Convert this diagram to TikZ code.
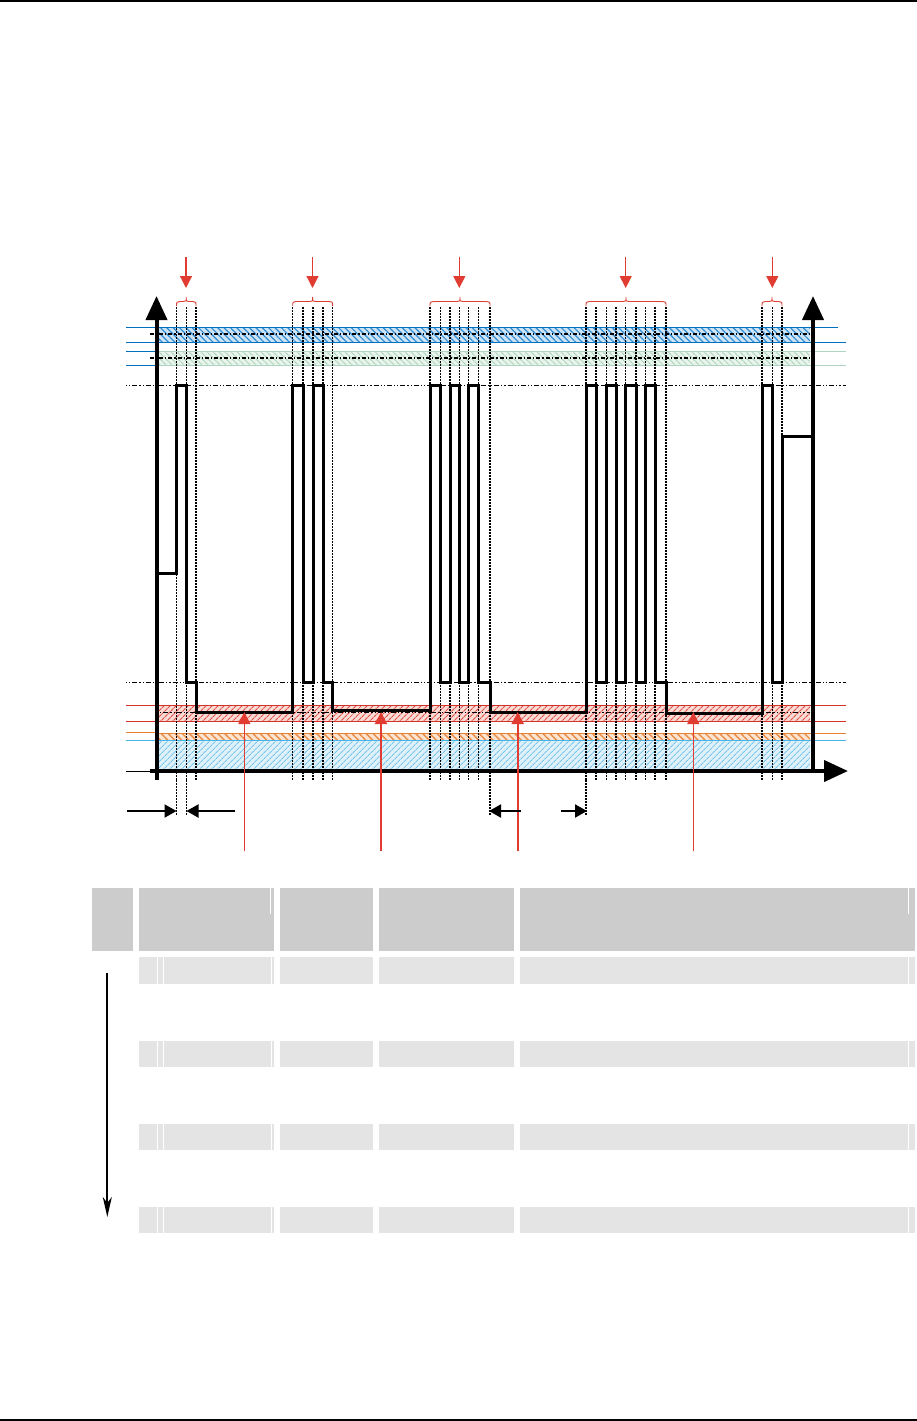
\documentclass[tikz,border=0pt]{standalone}
\usetikzlibrary{arrows.meta,patterns.meta}
\definecolor{lnblue}{RGB}{0,112,192}
\definecolor{bandblue}{RGB}{205,228,246}
\definecolor{hatchblue}{RGB}{50,140,210}
\definecolor{lngreen}{RGB}{175,212,192}
\definecolor{bandgreen}{RGB}{232,244,236}
\definecolor{hatchgreen}{RGB}{170,210,185}
\definecolor{lnred}{RGB}{210,50,40}
\definecolor{bandred}{RGB}{250,220,215}
\definecolor{hatchred}{RGB}{225,80,70}
\definecolor{lnorange}{RGB}{230,130,50}
\definecolor{bandorange}{RGB}{252,228,210}
\definecolor{hatchorange}{RGB}{235,140,70}
\definecolor{lnlblue}{RGB}{70,180,230}
\definecolor{bandlblue}{RGB}{222,240,250}
\definecolor{hatchlblue}{RGB}{120,195,232}
\definecolor{arrred}{RGB}{225,60,50}
\definecolor{hdrgray}{RGB}{204,204,204}
\definecolor{rowgray}{RGB}{228,228,228}
\begin{document}
\begin{tikzpicture}[x=1pt,y=-1pt,
  level/.style={line width=1pt},
  hdots/.style={line width=1pt,black,dash pattern=on 1.2pt off 2pt on 1.2pt off 2pt on 5pt off 2pt},
  hdashdot/.style={line width=1.2pt,black,dash pattern=on 4pt off 2pt on 1.2pt off 2pt},
  vdots/.style={line width=1.5pt,black,dash pattern=on 1.6pt off 1.4pt},
  signal/.style={line width=3pt,black,line join=miter,line cap=rect},
  axis/.style={line width=4pt,black,-{Triangle[length=24pt,width=21pt]}},
  redarr/.style={draw=arrred,fill=arrred,-{Triangle[length=12pt,width=12pt]}},
  blkarr/.style={line width=2pt,black,-{Triangle[length=12pt,width=13pt]}},
  rbrace/.style={draw=arrred,line width=0.9pt},
  hdr/.style={fill=hdrgray},
  rowc/.style={fill=rowgray},
  faint/.style={draw=white,line width=0.8pt}
]
\useasboundingbox (0,0) rectangle (917,1421);
\fill[white] (0,0) rectangle (917,1421);
% page rules
\draw[line width=1.3pt] (0,1) -- (917,1);
\draw[line width=1.3pt] (0,1420) -- (917,1420);

% ---- bands ----
\fill[bandblue] (157,327) rectangle (810,342);
\fill[pattern={Lines[angle=-45,distance=4.5pt,line width=1.2pt]},pattern color=hatchblue] (157,327) rectangle (810,342);
\fill[bandgreen] (157,351) rectangle (810,365);
\fill[pattern={Lines[angle=-45,distance=4pt,line width=1.2pt]},pattern color=hatchgreen] (157,351) rectangle (810,365);
\fill[bandred] (157,705) rectangle (810,721);
\fill[pattern={Lines[angle=45,distance=4pt,line width=1.1pt]},pattern color=hatchred] (157,705) rectangle (810,721);
\fill[bandorange] (157,733) rectangle (810,740);
\fill[pattern={Lines[angle=-45,distance=5pt,line width=1.4pt]},pattern color=hatchorange] (157,733) rectangle (810,740);
\fill[bandlblue] (157,740) rectangle (810,771);
\fill[pattern={Lines[angle=45,distance=4pt,line width=1pt]},pattern color=hatchlblue] (157,740) rectangle (810,771);

% ---- level lines ----
\draw[level,lnblue] (126,327) -- (838,327);
\draw[level,lnblue] (126,342) -- (846,342);
\draw[level,lnblue] (126,351) -- (156,351);
\draw[level,lngreen] (156,351) -- (846,351);
\draw[level,lnblue] (126,365) -- (156,365);
\draw[level,lngreen] (156,365) -- (846,365);
\draw[hdashdot] (150,334) -- (810,334);
\draw[hdashdot] (150,358) -- (810,358);
\draw[hdots] (126,385) -- (846,385);
\draw[hdots] (126,682) -- (846,682);
\draw[hdots] (157,712) -- (810,712);
\draw[level,lnred] (126,705) -- (846,705);
\draw[level,lnred] (126,721) -- (846,721);
\draw[level,lnorange] (126,732) -- (156,732);
\draw[level,lnorange] (156,733) -- (846,733);
\draw[level,lnlblue] (126,740) -- (846,740);
\draw[level,black] (126,771) -- (156,771);

% ---- dotted verticals ----
\foreach \x in {176.5,186.5,196,292.7,303,313,323,332.7,430,440.7,450,459.3,468.7,478.7,490,586,596,606.7,616,625.7,636,645.7,655,666,762,772.3,782}
  \draw[vdots] (\x,307) -- (\x,780);
\foreach \x in {176.5,186.5,490,586}
  \draw[vdots] (\x,780) -- (\x,815);

% ---- signal ----
\draw[signal] (157,573) -- (176.5,573) -- (176.5,385) -- (186.5,385) -- (186.5,682) -- (196,682) -- (196,712)
  -- (292.7,712) -- (292.7,385) -- (303,385) -- (303,682) -- (313,682) -- (313,385) -- (323,385) -- (323,682) -- (332.7,682) -- (332.7,710)
  -- (430,710) -- (430,385) -- (440.7,385) -- (440.7,682) -- (450,682) -- (450,385) -- (459.3,385) -- (459.3,682)
  -- (468.7,682) -- (468.7,385) -- (478.7,385) -- (478.7,682) -- (490,682) -- (490,712)
  -- (586,712) -- (586,385) -- (596,385) -- (596,682) -- (606.7,682) -- (606.7,385) -- (616,385) -- (616,682)
  -- (625.7,682) -- (625.7,385) -- (636,385) -- (636,682) -- (645.7,682) -- (645.7,385) -- (655,385) -- (655,682)
  -- (666,682) -- (666,713) -- (762,713) -- (762,385) -- (772.3,385) -- (772.3,682) -- (782,682) -- (782,436) -- (813,436);

% ---- axes ----
\coordinate (yaxB) at (156.5,780);
\coordinate (yaxT) at (156.5,296);
\coordinate (xaxL) at (150,771);
\coordinate (xaxR) at (848,771);
\coordinate (raxB) at (813,773);
\coordinate (raxT) at (813,296);
\draw[axis] (yaxB) -- (yaxT);
\draw[axis] (xaxL) -- (xaxR);
\draw[axis] (raxB) -- (raxT);

% ---- braces and top red arrows ----
\foreach \a/\b in {176.5/196, 292.7/332.7, 430/490, 586/666, 762/782}{
  \pgfmathsetmacro{\m}{(\a+\b)/2}
  \draw[rbrace] (\a,306) .. controls (\a,302) .. (\a+4,301.5) -- (\m-3,301.5) .. controls (\m,301.5) .. (\m,297)
     .. controls (\m,301.5) .. (\m+3,301.5) -- (\b-4,301.5) .. controls (\b,302) .. (\b,306);
}
\foreach \x [count=\i] in {186,312.5,459.3,625.7,772.3}{
  \coordinate (topA\i) at (\x,257);
  \coordinate (topB\i) at (\x,288);
  \draw[redarr,line width=1.2pt] (topA\i) -- (topB\i);
}

% ---- bottom red arrows ----
\foreach \x/\w [count=\i] in {244.3/1.1,381/2,517.7/2,693.3/1.1}{
  \coordinate (botA\i) at (\x,851);
  \coordinate (botB\i) at (\x,712);
  \draw[redarr,line width=\w pt] (botA\i) -- (botB\i);
}

% ---- black dimension arrows ----
\coordinate (d1a) at (127,811);   \coordinate (d1b) at (176.5,811);
\coordinate (d2a) at (235,811);   \coordinate (d2b) at (186.5,811);
\coordinate (d3a) at (521,811);   \coordinate (d3b) at (489,811);
\coordinate (d4a) at (561,811);   \coordinate (d4b) at (587,811);
\draw[blkarr] (d1a) -- (d1b);
\draw[blkarr] (d2a) -- (d2b);
\draw[blkarr] (d3a) -- (d3b);
\draw[blkarr] (d4a) -- (d4b);

% ---- table ----
\fill[hdr] (92,888) rectangle (132.7,950.7);
\foreach \a/\b in {139/273.7,280/372.7,379/514,520/915}{
  \fill[hdr] (\a,888) rectangle (\b,950.7);
  \foreach \t/\u in {957/983.7,1041/1066.7,1124/1149.7,1207/1232.5}
    \fill[rowc] (\a,\t) rectangle (\b,\u);
}
\draw[faint] (270.7,888) -- (270.7,914);
\draw[faint] (908,888) -- (908,914);
\foreach \t/\u in {957/983.7,1041/1066.7,1124/1149.7,1207/1232.5}{
  \draw[faint] (157.7,\t) -- (157.7,\u);
  \draw[faint] (163,\t) -- (163,\u);
  \draw[faint] (271.7,\t) -- (271.7,\u);
  \draw[faint] (908,\t) -- (908,\u);
}
\coordinate (tarA) at (107.3,972.7);
\coordinate (tarB) at (107.3,1217);
\draw[line width=2pt,black,-{Stealth[length=20pt,width=9pt,inset=6pt]}] (tarA) -- (tarB);
\end{tikzpicture}
\end{document}
